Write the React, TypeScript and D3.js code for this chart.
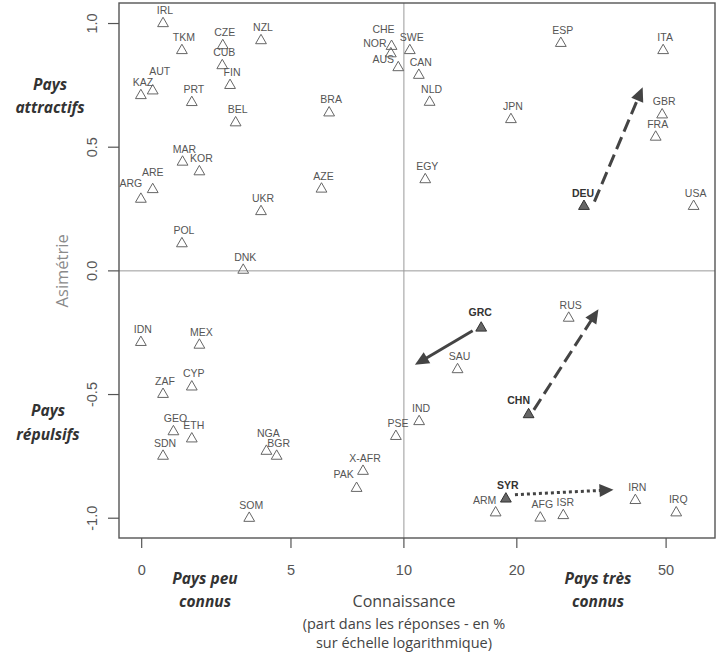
import React from "react";
import * as d3 from "d3";

// ---- data ----
const countries = [
  "IRL","TKM","CZE","NZL","CUB","FIN","AUT","KAZ","PRT","BEL","BRA","MAR","KOR","ARE","ARG","AZE","UKR","POL","DNK",
  "CHE","NOR","AUS","SWE","ESP","ITA","CAN","NLD","JPN","GBR","FRA","EGY","DEU","USA",
  "IDN","MEX","ZAF","CYP","GEO","ETH","SDN","NGA","BGR","SOM","PSE","X-AFR","PAK",
  "GRC","SAU","RUS","CHN","IND","SYR","ARM","AFG","ISR","IRN","IRQ"
];
const knowledge = [
  2.28,2.56,3.29,4.16,3.28,3.44,2.14,1.99,2.72,3.56,6.32,2.57,2.85,2.14,1.99,6.03,4.16,2.56,3.73,
  9.27,9.23,9.66,10.37,26.2,49.1,10.96,11.71,19.29,48.8,46.9,11.4,30.2,59.2,
  1.99,2.85,2.28,2.72,2.43,2.72,2.28,4.3,4.58,3.87,9.52,7.78,7.48,
  16.07,13.9,27.5,21.5,10.98,18.7,17.56,23.1,26.6,41.4,53.2
];
const asymmetry = [
  1.006,0.897,0.917,0.937,0.836,0.756,0.734,0.715,0.687,0.605,0.645,0.446,0.407,0.335,0.296,0.337,0.246,0.116,0.009,
  0.914,0.884,0.828,0.897,0.926,0.897,0.797,0.688,0.618,0.637,0.547,0.375,0.267,0.267,
  -0.283,-0.294,-0.493,-0.463,-0.644,-0.673,-0.743,-0.723,-0.743,-0.994,-0.663,-0.804,-0.873,
  -0.225,-0.393,-0.185,-0.575,-0.603,-0.916,-0.972,-0.993,-0.983,-0.922,-0.972
];
const highlighted = ["DEU", "GRC", "CHN", "SYR"];

const arrowCountry = ["DEU", "GRC", "CHN", "SYR"];
const arrowX0 = [32.2, 15.25, 22.2, 19.77];
const arrowY0 = [0.28, -0.242, -0.562, -0.905];
const arrowX1 = [43.3, 10.7, 33.0, 36.2];
const arrowY1 = [0.742, -0.38, -0.155, -0.885];
const arrowStyle = ["longdash", "solid", "longdash", "dotted"];

const xTickValues = [2, 5, 10, 20, 50];
const xTickLabels = ["0", "5", "10", "20", "50"];
const yTickValues = [1, 0.5, 0, -0.5, -1];
const yTickLabels = ["1.0", "0.5", "0.0", "-0.5", "-1.0"];

// label nudges (pixels) for hand-placed labels
const labelNudge: Record<string, [number, number]> = {
  AUT: [5, -6], ARG: [-12, -3], ARE: [-2, -4], CHE: [-10, -4], NOR: [-18, 3], AUS: [-17, 5],
  NGA: [0, -5], PAK: [-15, -1], CHN: [-12, -1], ARM: [-13, 1], GRC: [-3, -3], DEU: [-3, 0],
};

const W = 717, H = 653;
const LEFT = 119, RIGHT = 715, TOP = 3, BOTTOM = 538;

export default function App() {
  const x = d3.scaleLog().domain([1.74, 67.5]).range([LEFT, RIGHT]);
  const y = d3.scaleLinear().domain([-1.08, 1.083]).range([BOTTOM, TOP]);
  const tri = (cx: number, cy: number) =>
    `M${cx},${cy - 4.8}L${cx + 5.4},${cy + 4.6}L${cx - 5.4},${cy + 4.6}Z`;
  const sans = "'Liberation Sans', Arial, sans-serif";
  const ann = "'Open Sans', sans-serif";

  const dashFor = (s: string) => (s === "longdash" ? "13,6" : s === "dotted" ? "3,3" : undefined);

  return (
    <svg width={W} height={H} style={{ position: "absolute", left: 0, top: 0, background: "#fff" }}>
      {/* reference lines */}
      <line x1={x(10)} x2={x(10)} y1={TOP} y2={BOTTOM} stroke="#999" strokeWidth={1} />
      <line x1={LEFT} x2={RIGHT} y1={y(0)} y2={y(0)} stroke="#999" strokeWidth={1} />
      {/* box */}
      <rect x={LEFT} y={TOP} width={RIGHT - LEFT} height={BOTTOM - TOP} fill="none" stroke="#555" strokeWidth={1.4} />
      {/* y axis */}
      {yTickValues.map((v, i) => (
        <g key={"yt" + i}>
          <line x1={LEFT - 11} x2={LEFT} y1={y(v)} y2={y(v)} stroke="#555" strokeWidth={1.2} />
          <text transform={`translate(97,${y(v)}) rotate(-90)`} textAnchor="middle" fontFamily={sans} fontSize={14.5} fill="#555">
            {yTickLabels[i]}
          </text>
        </g>
      ))}
      {/* x axis */}
      {xTickValues.map((v, i) => (
        <g key={"xt" + i}>
          <line x1={x(v)} x2={x(v)} y1={BOTTOM} y2={BOTTOM + 10} stroke="#555" strokeWidth={1.2} />
          <text x={x(v)} y={575} textAnchor="middle" fontFamily={sans} fontSize={14.5} fill="#555">
            {xTickLabels[i]}
          </text>
        </g>
      ))}
      {/* axis titles */}
      <text transform={`translate(68,${y(0)}) rotate(-90)`} textAnchor="middle" fontFamily={ann} fontSize={16.5} fill="#8a8a8a">
        Asimétrie
      </text>
      <text x={404} y={607} textAnchor="middle" fontFamily={ann} fontSize={16} fill="#444">Connaissance</text>
      <text x={404} y={629} textAnchor="middle" fontFamily={ann} fontSize={14.5} fill="#444">(part dans les réponses - en %</text>
      <text x={404} y={648} textAnchor="middle" fontFamily={ann} fontSize={14.5} fill="#444">sur échelle logarithmique)</text>
      {/* annotations */}
      <g fontFamily={ann} fontSize={15.5} fontWeight="bold" fontStyle="italic" fill="#333" textAnchor="middle">
        <text x={50} y={90}>Pays</text>
        <text x={50} y={113}>attractifs</text>
        <text x={48} y={416}>Pays</text>
        <text x={48} y={440}>répulsifs</text>
        <text x={205} y={584}>Pays peu</text>
        <text x={205} y={607}>connus</text>
        <text x={598} y={584}>Pays très</text>
        <text x={598} y={607}>connus</text>
      </g>
      {/* arrows */}
      {arrowCountry.map((c, i) => {
        const x0 = x(arrowX0[i]), y0 = y(arrowY0[i]);
        const x1 = x(arrowX1[i]), y1 = y(arrowY1[i]);
        const a = Math.atan2(y1 - y0, x1 - x0);
        const hl = 14, hw = 6.5;
        const bx = x1 - hl * Math.cos(a), by = y1 - hl * Math.sin(a);
        const px = -Math.sin(a), py = Math.cos(a);
        return (
          <g key={"ar" + c}>
            <line x1={x0} y1={y0} x2={x1 - (hl - 2) * Math.cos(a)} y2={y1 - (hl - 2) * Math.sin(a)}
              stroke="#444" strokeWidth={3} strokeDasharray={dashFor(arrowStyle[i])} />
            <path d={`M${x1},${y1}L${bx + hw * px},${by + hw * py}L${bx - hw * px},${by - hw * py}Z`} fill="#444" />
          </g>
        );
      })}
      {/* points */}
      {countries.map((c, i) => {
        const cx = x(knowledge[i]), cy = y(asymmetry[i]);
        const hi = highlighted.includes(c);
        const n = labelNudge[c] || [0, 0];
        return (
          <g key={c}>
            <path d={tri(cx, cy)} fill={hi ? "#666" : "none"} stroke={hi ? "#333" : "#666"} strokeWidth={1} />
            <text x={cx + 2 + n[0]} y={cy - 8 + n[1]} textAnchor="middle" fontFamily={sans} fontSize={10.5}
              fontWeight={hi ? "bold" : "normal"} fill={hi ? "#333" : "#555"}>
              {c}
            </text>
          </g>
        );
      })}
    </svg>
  );
}
